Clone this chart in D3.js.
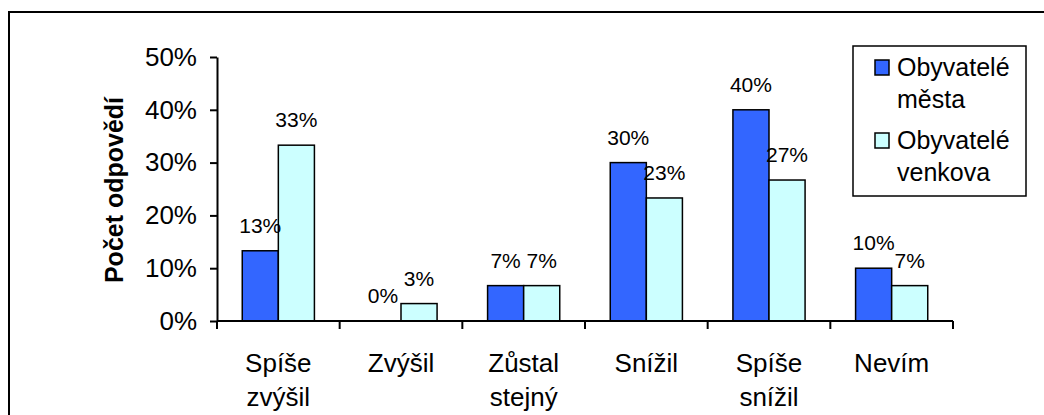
<!DOCTYPE html>
<html>
<head>
<meta charset="utf-8">
<script src="https://cdn.jsdelivr.net/npm/d3@7"></script>
<style>
  body { margin: 0; background: #fff; }
  text { font-family: "Liberation Sans", Arial, sans-serif; fill: #000; }
</style>
</head>
<body>
<div id="chart"></div>
<script>
var categories = ["Spíše zvýšil", "Zvýšil", "Zůstal stejný", "Snížil", "Spíše snížil", "Nevím"];
var seriesNames = ["Obyvatelé města", "Obyvatelé venkova"];
var mestaValues = [0.133, 0.0, 0.067, 0.30, 0.40, 0.10];
var venkovaValues = [0.333, 0.033, 0.067, 0.233, 0.267, 0.067];
var yTicks = [0, 0.1, 0.2, 0.3, 0.4, 0.5];
var yTitle = "Počet odpovědí";

var colors = ["#3366ff", "#ccffff"];

var svgWidth = 1044;
var svgHeight = 415;

var svg = d3.select("#chart")
  .append("svg")
  .attr("width", svgWidth)
  .attr("height", svgHeight);

// outer chart border (clipped at right / bottom like the source)
svg.append("rect")
  .attr("x", 9)
  .attr("y", 12)
  .attr("width", 1060)
  .attr("height", 440)
  .attr("fill", "none")
  .attr("stroke", "#000")
  .attr("stroke-width", 2);

var plotLeft = 217, plotRight = 953, plotTop = 57, plotBottom = 321;

var x0 = d3.scaleBand()
  .domain(categories)
  .range([plotLeft, plotRight])
  .padding(0);

var x1 = d3.scaleBand()
  .domain(seriesNames)
  .range([0, x0.bandwidth()])
  .paddingInner(0)
  .paddingOuter(0.7);

var y = d3.scaleLinear()
  .domain([0, 0.5])
  .range([plotBottom, plotTop]);

var data = categories.map(function(c, i) {
  return { cat: c, values: [
    { name: seriesNames[0], v: mestaValues[i] },
    { name: seriesNames[1], v: venkovaValues[i] }
  ]};
});

// bars
var groups = svg.append("g").selectAll("g")
  .data(data)
  .enter().append("g")
  .attr("transform", d => `translate(${x0(d.cat)},0)`);

groups.selectAll("rect")
  .data(d => d.values)
  .enter().append("rect")
  .attr("x", d => x1(d.name))
  .attr("y", d => y(d.v))
  .attr("width", x1.bandwidth())
  .attr("height", d => y(0) - y(d.v))
  .attr("fill", (d, i) => colors[i])
  .attr("stroke", "#000")
  .attr("stroke-width", 1.5);

// data labels
groups.selectAll("text")
  .data(d => d.values)
  .enter().append("text")
  .attr("x", d => x1(d.name) + x1.bandwidth() / 2)
  .attr("y", d => y(d.v) - 18)
  .attr("text-anchor", "middle")
  .attr("font-size", "21px")
  .text(d => Math.round(d.v * 100) + "%");

// y axis
var yAxis = svg.append("g")
  .attr("transform", `translate(${plotLeft},0)`)
  .call(d3.axisLeft(y)
    .tickValues(yTicks)
    .tickFormat(d3.format(".0%"))
    .tickSize(7)
    .tickSizeOuter(0)
    .tickPadding(13));
yAxis.selectAll("text")
  .attr("font-size", "26px")
  .style("font-family", "'Liberation Sans', Arial, sans-serif");
yAxis.selectAll("line, path").attr("stroke", "#000").attr("stroke-width", 2);

// x axis line + boundary ticks
var xAxis = svg.append("g");
xAxis.append("line")
  .attr("x1", plotLeft).attr("x2", plotRight)
  .attr("y1", plotBottom).attr("y2", plotBottom)
  .attr("stroke", "#000").attr("stroke-width", 2);
var tickPos = categories.map(c => x0(c)).concat([x0.range()[1]]);
xAxis.selectAll(".xtick")
  .data(tickPos)
  .enter().append("line")
  .attr("class", "xtick")
  .attr("x1", d => d).attr("x2", d => d)
  .attr("y1", plotBottom).attr("y2", plotBottom + 8)
  .attr("stroke", "#000").attr("stroke-width", 2);

// category labels (wrapped)
var catLabels = xAxis.selectAll(".xlabel")
  .data(categories)
  .enter().append("text")
  .attr("class", "xlabel")
  .attr("text-anchor", "middle")
  .attr("font-size", "26px")
  .attr("transform", d => `translate(${x0(d) + x0.bandwidth() / 2},${plotBottom + 51})`);
catLabels.each(function(d) {
  var words = d.split(" ");
  var t = d3.select(this);
  words.forEach(function(w, i) {
    t.append("tspan").attr("x", 0).attr("y", i * 34).text(w);
  });
});

// y title
svg.append("text")
  .attr("transform", "translate(123,190) rotate(-90)")
  .attr("text-anchor", "middle")
  .attr("font-size", "25px")
  .attr("font-weight", "bold")
  .text(yTitle);

// legend
var legend = svg.append("g");
legend.append("rect")
  .attr("x", 853).attr("y", 46)
  .attr("width", 173).attr("height", 150)
  .attr("fill", "#fff")
  .attr("stroke", "#000")
  .attr("stroke-width", 1.5);

var legendItems = legend.selectAll(".item")
  .data(seriesNames)
  .enter().append("g")
  .attr("class", "item")
  .attr("transform", (d, i) => `translate(0,${i * 73})`);

legendItems.append("rect")
  .attr("x", 875).attr("y", 60)
  .attr("width", 14).attr("height", 15)
  .attr("fill", (d, i) => colors[i])
  .attr("stroke", "#000")
  .attr("stroke-width", 1.5);

legendItems.append("text")
  .attr("font-size", "25px")
  .each(function(d) {
    var t = d3.select(this);
    d.split(" ").forEach(function(w, i) {
      t.append("tspan").attr("x", 897).attr("y", 76 + i * 32).text(w);
    });
  });
</script>
</body>
</html>
